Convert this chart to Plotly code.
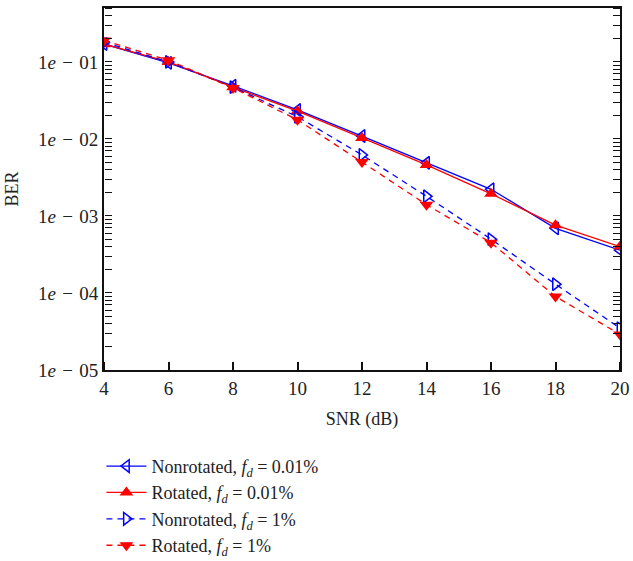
import plotly.graph_objects as go

snr = [4, 6, 8, 10, 12, 14, 16, 18, 20]
ber_nonrot_001 = [0.171, 0.097, 0.049, 0.0238, 0.0109, 0.0049, 0.00222, 0.00069, 0.00036]
ber_rot_001 = [0.170, 0.100, 0.047, 0.0230, 0.0103, 0.0046, 0.00194, 0.00076, 0.00040]
ber_nonrot_1 = [0.180, 0.100, 0.047, 0.0194, 0.0062, 0.0018, 0.00050, 0.00013, 0.000035]
ber_rot_1 = [0.190, 0.105, 0.046, 0.0177, 0.0050, 0.0014, 0.00045, 0.00009, 0.000029]

names = [
    "Nonrotated, <i>f<sub>d</sub></i> = 0.01%",
    "Rotated, <i>f<sub>d</sub></i> = 0.01%",
    "Nonrotated, <i>f<sub>d</sub></i> = 1%",
    "Rotated, <i>f<sub>d</sub></i> = 1%",
]
decades = [1e-5, 1e-4, 1e-3, 1e-2, 1e-1]
decade_labels = ["1<i>e</i>\u2004−\u200405", "1<i>e</i>\u2004−\u200404", "1<i>e</i>\u2004−\u200403",
                 "1<i>e</i>\u2004−\u200402", "1<i>e</i>\u2004−\u200401"]

y_tickvals = []
for d in decades:
    for m in range(1, 10):
        y_tickvals.append(m * d)

FONT = "Liberation Serif"
XR = [4, 20]
YR = [-5, -0.3]
fig = go.Figure()
fig.add_trace(go.Scatter(x=snr, y=ber_nonrot_001, name=names[0], mode="lines+markers",
                         line=dict(color="#0000ff", width=1.3),
                         marker=dict(symbol="triangle-left-open", size=11, color="#0000ff", line=dict(width=1.5))))
fig.add_trace(go.Scatter(x=snr, y=ber_rot_001, name=names[1], mode="lines+markers",
                         line=dict(color="#ff0000", width=1.3),
                         marker=dict(symbol="triangle-up", size=12, color="#ff0000")))
fig.add_trace(go.Scatter(x=snr, y=ber_nonrot_1, name=names[2], mode="lines+markers",
                         line=dict(color="#0000ff", width=1.3, dash="6px,5px"),
                         marker=dict(symbol="triangle-right-open", size=11, color="#0000ff", line=dict(width=1.5))))
fig.add_trace(go.Scatter(x=snr, y=ber_rot_1, name=names[3], mode="lines+markers",
                         line=dict(color="#ff0000", width=1.3, dash="6px,5px"),
                         marker=dict(symbol="triangle-down", size=12, color="#ff0000")))
# invisible helpers so the tick-only overlay axes are drawn
fig.add_trace(go.Scatter(x=snr, y=ber_rot_1, xaxis="x2", yaxis="y2", mode="markers",
                         marker=dict(opacity=0), showlegend=False, hoverinfo="skip"))
fig.add_trace(go.Scatter(x=snr, y=ber_rot_1, xaxis="x", yaxis="y3", mode="markers",
                         marker=dict(opacity=0), showlegend=False, hoverinfo="skip"))

tick_axis = dict(showticklabels=False, showline=False, showgrid=False, zeroline=False,
                 ticks="outside", tickcolor="#111", automargin=False)

fig.update_layout(
    width=633, height=561,
    margin=dict(l=104, r=13, t=8, b=191, autoexpand=False),
    paper_bgcolor="white", plot_bgcolor="white",
    font=dict(family=FONT, size=18, color="#222"),
    showlegend=True,
    legend=dict(x=-0.005, y=-0.215, xanchor="left", yanchor="top",
                font=dict(family=FONT, size=18, color="#222"),
                bgcolor="rgba(0,0,0,0)", tracegroupgap=0, itemwidth=40),
    xaxis=dict(range=XR, tickmode="array", tickvals=snr, ticks="",
               showline=True, linecolor="#111", linewidth=1.8, mirror=True,
               showgrid=False, zeroline=False, automargin=False,
               title=dict(text="SNR (dB)", font=dict(family=FONT, size=18)),
               tickfont=dict(family=FONT, size=19, color="#222")),
    yaxis=dict(type="log", range=YR, tickmode="array", tickvals=decades, ticktext=decade_labels,
               ticks="",
               showline=True, linecolor="#111", linewidth=1.8, mirror=True,
               showgrid=False, zeroline=False, automargin=False,
               title=dict(text="BER", font=dict(family=FONT, size=18)),
               tickfont=dict(family=FONT, size=19, color="#222")),
    xaxis2=dict(tick_axis, range=XR, tickmode="array", tickvals=snr, ticklen=8, tickwidth=1.5,
                overlaying="x", side="top", anchor="free", position=0),
    yaxis2=dict(tick_axis, type="log", range=YR, tickmode="array", tickvals=y_tickvals,
                ticklen=7, tickwidth=1.3, overlaying="y", side="right", anchor="free", position=0),
    yaxis3=dict(tick_axis, type="log", range=YR, tickmode="array", tickvals=y_tickvals,
                ticklen=7, tickwidth=1.3, overlaying="y", side="left", anchor="free", position=1),
)
fig.write_html("out.html")
